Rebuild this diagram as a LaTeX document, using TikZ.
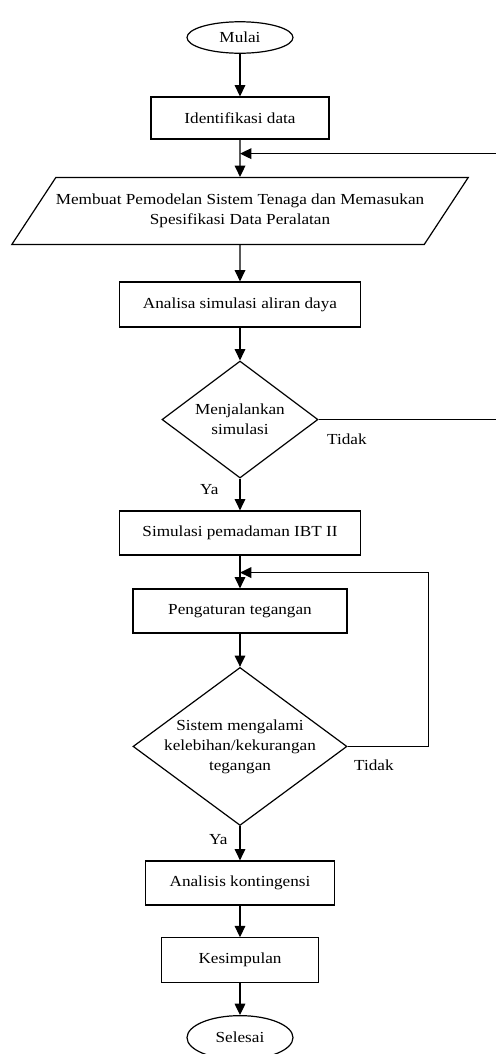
\documentclass[tikz,border=0pt]{standalone}
\usepackage{fontspec}
\setmainfont[FakeStretch=1.12]{Liberation Serif}
\usetikzlibrary{shapes.geometric, arrows.meta}
\tikzstyle{startstop} = [ellipse, minimum width=79.5pt, minimum height=23.6pt, inner sep=0pt, align=center, draw=black]
\tikzstyle{process} = [rectangle, minimum height=33pt, inner sep=0pt, align=center, draw=black]
\tikzstyle{io} = [trapezium, trapezium left angle=56.7, trapezium right angle=123.3, trapezium stretches body=true, minimum width=342pt, inner xsep=0pt, inner ysep=12.4pt, align=center, draw=black]
\tikzstyle{decision} = [diamond, aspect=1.35, inner sep=-3pt, align=center, draw=black]
\tikzstyle{answer} = [inner sep=0pt]
\tikzstyle{arrow} = [-{Triangle[length=8.5pt,width=8pt]}]

\begin{document}
\begin{tikzpicture}[line width=0.9pt, node distance=58pt, font=\fontsize{11.5}{15}\selectfont]
\useasboundingbox (-180pt,28.125pt) rectangle (192pt,-762.375pt);
\node (mulai) [startstop] {Mulai};
\node (ident) [process, minimum width=133.5pt, minimum height=31.5pt, below of=mulai, yshift=-2.4pt] {Identifikasi data};
\node (model) [io, below of=ident, yshift=-11.75pt] {Membuat Pemodelan Sistem Tenaga dan Memasukan\\Spesifikasi Data Peralatan};
\node (aliran) [process, minimum width=180.75pt, minimum height=33.75pt, below of=model, yshift=-12.1pt] {Analisa simulasi aliran daya};
\node (jalan) [decision, minimum width=117pt, minimum height=87.75pt, below of=aliran, yshift=-28.25pt] {Menjalankan\\simulasi};
\node (padam) [process, minimum width=180.75pt, below of=jalan, yshift=-27.1pt] {Simulasi pemadaman IBT II};
\node (atur) [process, minimum width=160.5pt, below of=padam, yshift=-0.5pt] {Pengaturan tegangan};
\node (cek) [decision, minimum width=160.5pt, minimum height=118.5pt, below of=atur, yshift=-43.6pt] {Sistem mengalami\\kelebihan/kekurangan\\tegangan};
\node (kontin) [process, minimum width=141.75pt, below of=cek, yshift=-44.4pt] {Analisis kontingensi};
\node (simpul) [process, minimum width=117.75pt, minimum height=33.75pt, below of=kontin] {Kesimpulan};
\node (selesai) [startstop, minimum height=33pt, below of=simpul] {Selesai};

\node (tidak1) [answer, anchor=north west, xshift=6pt, yshift=-10.5pt] at (jalan.east) {Tidak};
\node (tidak2) [answer, anchor=north west, xshift=4.5pt, yshift=-9.75pt] at (cek.east) {Tidak};
\node (ya1) [answer, anchor=north east, xshift=-15.75pt, yshift=-3.75pt] at (jalan.south) {Ya};
\node (ya2) [answer, anchor=north east, xshift=-9pt, yshift=-6pt] at (cek.south) {Ya};

\coordinate (balik1) at ([yshift=-10.5pt]ident.south);
\coordinate (balik2) at ([yshift=-12.75pt]padam.south);

\draw[arrow] (mulai) -- (ident);
\draw[arrow] (ident) -- (model);
\draw[arrow] (model) -- (aliran);
\draw[arrow] (aliran) -- (jalan);
\draw[arrow] (jalan) -- (padam);
\draw[arrow] (padam) -- (atur);
\draw[arrow] (atur) -- (cek);
\draw[arrow] (cek) -- (kontin);
\draw[arrow] (kontin) -- (simpul);
\draw[arrow] (simpul) -- (selesai);

\draw[arrow] (jalan.east) -- ++(136.5pt,0) |- (balik1);
\draw[arrow] (cek.east) -- ++(60.75pt,0) |- (balik2);
\end{tikzpicture}
\end{document}
